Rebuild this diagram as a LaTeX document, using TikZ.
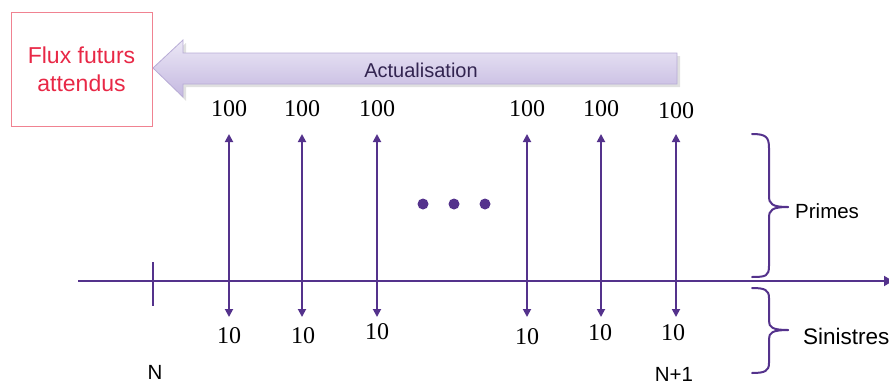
\documentclass[tikz,border=0pt]{standalone}
\usepackage{fontspec}
\setmainfont{Liberation Sans}
\newfontfamily\numfont{Liberation Serif}
\usetikzlibrary{arrows.meta}
\definecolor{axpurple}{RGB}{84,50,140}
\definecolor{boxred}{RGB}{240,130,145}
\definecolor{txtred}{RGB}{232,40,70}
\definecolor{arrtop}{RGB}{236,232,246}
\definecolor{arrbot}{RGB}{196,184,224}
\definecolor{arrdraw}{RGB}{184,172,214}
\definecolor{acttxt}{RGB}{50,36,80}
\tikzset{
  flow/.style={draw=axpurple, line width=1.8pt, {Triangle[width=8pt,length=8pt]}-{Triangle[width=8pt,length=8pt]}},
  numlbl/.style={font=\numfont\fontsize{24}{26}\selectfont, text=black, inner sep=0pt},
  sanslbl/.style={font=\fontsize{20.5}{22}\selectfont, text=black, inner sep=0pt},
  bracestyle/.style={draw=axpurple, line width=2pt, line cap=round},
}
\begin{document}
\begin{tikzpicture}[x=1pt,y=-1pt]
\useasboundingbox (0,0) rectangle (889,383);
% red box
\node[draw=boxred, line width=1pt, minimum width=141pt, minimum height=114pt, inner sep=0pt,
      align=center, text=txtred, font=\fontsize{23}{28}\selectfont] (flux) at (81.5,69) {Flux futurs\\attendus};
% big arrow
\fill[black!12] (156,70) -- (186,43) -- (186,56) -- (680,56) -- (680,87) -- (186,87) -- (186,101) -- cycle;
\shade[top color=arrtop, bottom color=arrbot, draw=arrdraw, line width=0.8pt]
  (153,68) -- (183,40) -- (183,53) -- (677,53) -- (677,84) -- (183,84) -- (183,97) -- cycle;
\node[text=acttxt, font=\fontsize{20}{22}\selectfont, inner sep=0pt] (act) at (421,70) {Actualisation};
% axis
\coordinate (axL) at (78,281);
\coordinate (axR) at (893,281);
\draw[draw=axpurple, line width=1.8pt, -{Triangle[width=10pt,length=9pt]}] (axL) -- (axR);
\coordinate (tkT) at (153,262);
\coordinate (tkB) at (153,306);
\draw[draw=axpurple, line width=1.8pt] (tkT) -- (tkB);
% flows
\foreach \i/\x/\yt/\yb/\xb in {1/229/109/336/229, 2/302/109/336/303, 3/377/109/332/377, 4/527/109/337/527, 5/601/109/333/600, 6/676/111/333/673}{
  \coordinate (t\i) at (\x,134);
  \coordinate (b\i) at (\x,317);
  \draw[flow] (b\i) -- (t\i);
  \node[numlbl] (p\i) at (\x,\yt) {100};
  \node[numlbl] (s\i) at (\xb,\yb) {10};
}
% dots
\foreach \i/\x in {1/423,2/454,3/485}{
  \node[circle, fill=axpurple, minimum size=11pt, inner sep=0pt] (d\i) at (\x,204) {};
}
% braces
\draw[bracestyle] (752,134) .. controls (766,134) and (769,137) .. (769,148) -- (769,196)
  .. controls (769,204) and (772,207) .. (788,207);
\draw[bracestyle] (788,207) .. controls (772,207) and (769,210) .. (769,218) -- (769,266)
  .. controls (769,276) and (766,277) .. (752,277);
\draw[bracestyle] (752,288) .. controls (765,288) and (769,290) .. (769,298) -- (769,321)
  .. controls (769,327) and (772,330) .. (788,330);
\draw[bracestyle] (788,330) .. controls (772,330) and (769,333) .. (769,339) -- (769,363)
  .. controls (769,371) and (765,373) .. (752,373);
\node[sanslbl, anchor=west] (primes) at (795,211) {Primes};
\node[sanslbl, anchor=west, font=\fontsize{22.5}{24}\selectfont] (sin) at (803,336) {Sinistres};
\node[sanslbl] (n0) at (155,372) {N};
\node[sanslbl] (n1) at (674,374) {N+1};
\end{tikzpicture}
\end{document}
